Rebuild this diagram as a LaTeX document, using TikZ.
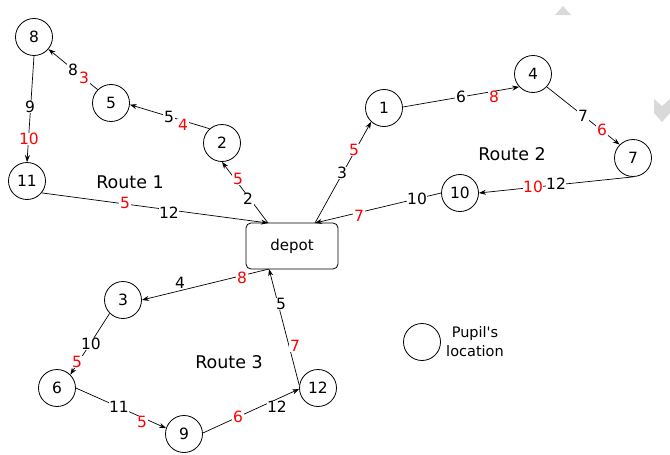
\documentclass[tikz,border=0pt]{standalone}
\usepackage{fontspec}
\setmainfont{DejaVu Sans}[Ligatures=TeXOff]
\usetikzlibrary{arrows.meta}
\tikzset{
  pupil/.style={circle,draw,line width=0.8pt,minimum size=37pt,inner sep=0pt,font=\fontsize{15.5}{18}\selectfont},
  depotbox/.style={draw,line width=0.8pt,rounded corners=5pt,minimum width=92pt,minimum height=46pt,inner sep=0pt,font=\fontsize{15}{18}\selectfont},
  lab/.style={fill=white,inner sep=0.6pt,font=\fontsize{15.5}{18}\selectfont},
  rlab/.style={lab,text=red},
  routelab/.style={inner sep=0pt,font=\fontsize{17.5}{20}\selectfont},
  conn/.style={line width=0.7pt,-{Stealth[length=7pt,width=5pt]}},
  deco/.style={fill=black!15,draw=none}
}
\begin{document}
\begin{tikzpicture}[x=1pt,y=-1pt]
\useasboundingbox (0,0) rectangle (670,455);
% decorative grey marks
\fill[deco] (555,15) -- (563,6) -- (571,15) -- cycle;
\fill[deco] (654,99) -- (662,106) -- (670,99) -- (670,113) -- (662,122) -- (654,113) -- cycle;
% nodes
\node[pupil] (n8) at (34,37) {8};
\node[pupil] (n5) at (111,103) {5};
\node[pupil] (n2) at (222,143) {2};
\node[pupil] (n11) at (27,181) {11};
\node[pupil] (n1) at (384,108) {1};
\node[pupil] (n4) at (533,74) {4};
\node[pupil] (n7) at (633,158) {7};
\node[pupil] (n10) at (460,193) {10};
\node[pupil] (n3) at (123,300) {3};
\node[pupil] (n6) at (57,388) {6};
\node[pupil] (n9) at (184,434) {9};
\node[pupil] (n12) at (318,388) {12};
\node[depotbox] (depot) at (292,246) {depot};
\coordinate (dtl) at (268,223);
\coordinate (dtr) at (315,223);
\coordinate (dbl) at (269,269);
% connectors
\draw[conn] (n8.south) -- (n11.north);
\draw[conn] (n5.135) -- (n8.-40);
\draw[conn] (n2.131) -- (n5.-5);
\draw[conn] (dtl) -- (n2.south);
\draw[conn] (n11.-39) -- (dtl);
\draw[conn] (dtr) -- (n1.-133);
\draw[conn] (n1.3) -- (n4.-137);
\draw[conn] (n4.-43) -- (n7.135);
\draw[conn] (n7.south) -- (n10.east);
\draw[conn] (n10.west) -- (dtr);
\draw[conn] (dbl) -- (n3.east);
\draw[conn] (n3.-135) -- (n6.45);
\draw[conn] (n6.east) -- (n9.162);
\draw[conn] (n9.3) -- (n12.183);
\draw[conn] (n12.172) -- (dbl);
% labels
\node[lab] (a1) at (73,70) {8};
\node[rlab] (a2) at (84,78) {3};
\node[lab] (b1) at (30,107) {9};
\node[rlab] (b2) at (29,139) {10};
\node[lab] (c1) at (169,117) {5};
\node[rlab] (c2) at (183,125) {4};
\node[rlab] (d1) at (238,179) {5};
\node[lab] (d2) at (248,199) {2};
\node[rlab] (e1) at (125,203) {5};
\node[lab] (e2) at (169,213) {12};
\node[rlab] (f1) at (354,150) {5};
\node[lab] (f2) at (342,173) {3};
\node[lab] (g1) at (461,97) {6};
\node[rlab] (g2) at (494,97) {8};
\node[lab] (h1) at (583,116) {7};
\node[rlab] (h2) at (602,130) {6};
\node[rlab] (i1) at (533,187) {10};
\node[lab] (i2) at (556,184) {12};
\node[lab] (j1) at (417,199) {10};
\node[rlab] (j2) at (359,216) {7};
\node[lab] (k1) at (180,283) {4};
\node[rlab] (k2) at (242,278) {8};
\node[lab] (m1) at (91,344) {10};
\node[rlab] (m2) at (77,362) {5};
\node[lab] (o1) at (281,304) {5};
\node[rlab] (o2) at (295,346) {7};
\node[lab] (p1) at (119,407) {11};
\node[rlab] (p2) at (142,422) {5};
\node[rlab] (q1) at (238,417) {6};
\node[lab] (q2) at (277,407) {12};
% route names
\node[routelab] (r1) at (130,182) {Route 1};
\node[routelab] (r2) at (512,154) {Route 2};
\node[routelab] (r3) at (229,362) {Route 3};
% legend
\node[pupil] (leg) at (422,342) {};
\node[align=center,inner sep=0pt,font=\fontsize{14.5}{19}\selectfont] (legt) at (475,342) {Pupil's\\location};
\end{tikzpicture}
\end{document}
